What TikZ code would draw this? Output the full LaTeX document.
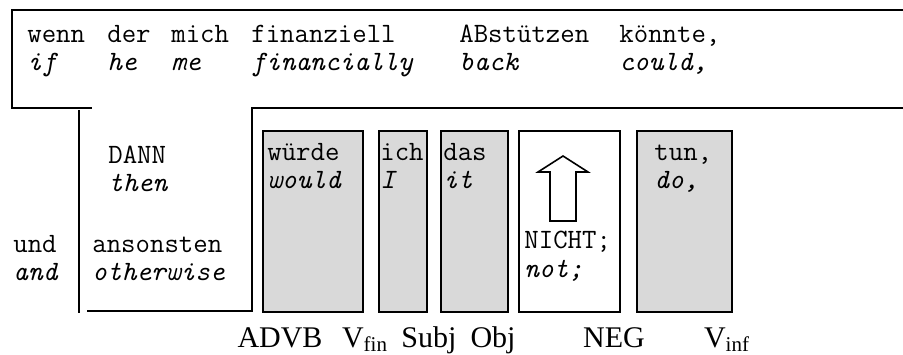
\documentclass[tikz,border=0pt]{standalone}
\usepackage{fontspec}
\setmainfont{Liberation Serif}
\definecolor{boxgray}{rgb}{0.85,0.85,0.85}
\tikzset{
  word/.style={anchor=base west, inner sep=0pt, font=\ttfamily\fontsize{14}{14}\selectfont},
  gloss/.style={anchor=base west, inner sep=0pt, font=\ttfamily\itshape\fontsize{14}{14}\selectfont},
  cat/.style={anchor=base, inner sep=0pt, font=\fontsize{15}{16}\selectfont},
  slot/.style={draw=black, line width=0.8pt, fill=boxgray},
  frame/.style={line width=1pt},
}

\begin{document}
\begin{tikzpicture}[x=0.5pt, y=-0.5pt]
  \useasboundingbox (0,0) rectangle (903,354);

  % frames
  \draw[frame] (903,10) -- (12,10) -- (12,108) -- (92,108);
  \draw[frame] (79,110) -- (79,313);
  \draw[frame] (87,311) -- (252,311) -- (252,108) -- (903,108);

  % slots
  \filldraw[slot] (263,131) rectangle (363,312);
  \filldraw[slot] (379,131) rectangle (427,312);
  \filldraw[slot] (441,131) rectangle (508,312);
  \filldraw[slot, fill=white] (519,131) rectangle (620,312);
  \filldraw[slot] (637,131) rectangle (732,312);

  % arrow
  \draw[line width=0.8pt] (550,221) -- (550,172) -- (538,172) -- (563,156)
    -- (588,172) -- (576,172) -- (576,221) -- cycle;

  % clause, one column = 16
  \foreach \col/\w/\g in {0/wenn/if, 5/der/he, 9/mich/me, 14/finanziell/financially,
      27/ABstützen/back, 37/{könnte,}/{could,}} {
    \node[word]  (w-\col) at (27+16*\col,42) {\w};
    \node[gloss] (g-\col) at (27+16*\col,70) {\g};
  }

  \node[word]  (dann) at (108,163) {DANN};
  \node[gloss] (then) at (108,191) {then};
  \node[word]  (und)  at (13,252) {und};
  \node[gloss] (and)  at (13,280) {and};
  \node[word]  (ansonsten) at (92,252) {ansonsten};
  \node[gloss] (otherwise) at (92,280) {otherwise};

  \node[word]  (wuerde) at (267,160) {würde};
  \node[gloss] (would)  at (267,188) {would};
  \node[word]  (ich) at (380,160) {ich};
  \node[gloss] (I)   at (380,188) {I};
  \node[word]  (das) at (443,160) {das};
  \node[gloss] (it)  at (443,188) {it};
  \node[word]  (nicht) at (524,248) {NICHT;};
  \node[gloss] (not)   at (524,277) {not;};
  \node[word]  (tun) at (654,160) {tun,};
  \node[gloss] (do)  at (654,188) {do,};

  % categories
  \node[cat] (advb) at (280,347) {ADVB};
  \node[cat] (vfin) at (365,347) {V\textsubscript{fin}};
  \node[cat] (subj) at (429,347) {Subj};
  \node[cat] (obj)  at (493,347) {Obj};
  \node[cat] (neg)  at (614,347) {NEG};
  \node[cat] (vinf) at (727,347) {V\textsubscript{inf}};
\end{tikzpicture}
\end{document}
